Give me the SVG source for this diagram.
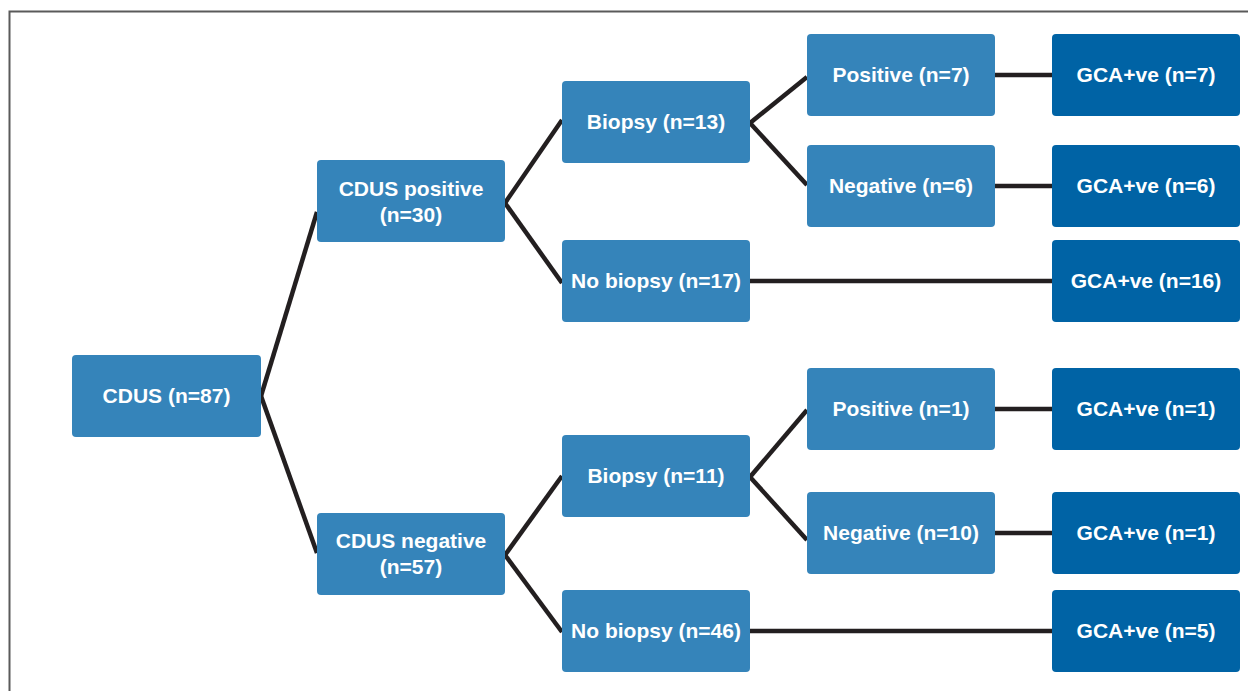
<svg xmlns="http://www.w3.org/2000/svg" width="1248" height="691" viewBox="0 0 1248 691">
<style>
.n rect{fill:#3584BA;}
.d rect{fill:#0063A5;}
text{font-family:"Liberation Sans",Arial,sans-serif;font-weight:bold;font-size:21px;fill:#fff;text-anchor:middle;}
.c line{stroke:#231F20;stroke-width:4.5;stroke-linecap:butt;}
</style>
<rect x="0" y="0" width="1248" height="691" fill="#fff"/>
<path d="M9.5 691 V11.5 H1248" fill="none" stroke="#5a5a5a" stroke-width="2"/>
<g class="c" id="connectors">
<line x1="261" y1="396" x2="317" y2="212"/>
<line x1="261" y1="396" x2="317" y2="553"/>
<line x1="505" y1="203" x2="562" y2="120"/>
<line x1="505" y1="203" x2="562" y2="283"/>
<line x1="505" y1="555" x2="562" y2="476"/>
<line x1="505" y1="555" x2="562" y2="632"/>
<line x1="750" y1="123" x2="807" y2="77"/>
<line x1="750" y1="123" x2="807" y2="185"/>
<line x1="750" y1="477" x2="807" y2="410"/>
<line x1="750" y1="477" x2="807" y2="540"/>
<line x1="995" y1="75" x2="1052" y2="75"/>
<line x1="995" y1="186" x2="1052" y2="186"/>
<line x1="750" y1="281" x2="1052" y2="281"/>
<line x1="995" y1="409" x2="1052" y2="409"/>
<line x1="995" y1="533" x2="1052" y2="533"/>
<line x1="750" y1="631" x2="1052" y2="631"/>
</g>
<g id="cdus" class="n"><rect x="72" y="355" width="189" height="82" rx="4"/><text x="166.5" y="403">CDUS (n=87)</text></g>
<g id="cdus-pos" class="n"><rect x="317" y="160" width="188" height="82" rx="4"/><text x="411" y="195.5">CDUS positive</text><text x="411" y="221.5">(n=30)</text></g>
<g id="cdus-neg" class="n"><rect x="317" y="513" width="188" height="82" rx="4"/><text x="411" y="547.5">CDUS negative</text><text x="411" y="573.5">(n=57)</text></g>
<g id="biopsy13" class="n"><rect x="562" y="81" width="188" height="82" rx="4"/><text x="656" y="129">Biopsy (n=13)</text></g>
<g id="nobiopsy17" class="n"><rect x="562" y="240" width="188" height="82" rx="4"/><text x="656" y="288">No biopsy (n=17)</text></g>
<g id="biopsy11" class="n"><rect x="562" y="435" width="188" height="82" rx="4"/><text x="656" y="483">Biopsy (n=11)</text></g>
<g id="nobiopsy46" class="n"><rect x="562" y="590" width="188" height="82" rx="4"/><text x="656" y="638">No biopsy (n=46)</text></g>
<g id="pos7" class="n"><rect x="807" y="34" width="188" height="82" rx="4"/><text x="901" y="82">Positive (n=7)</text></g>
<g id="neg6" class="n"><rect x="807" y="145" width="188" height="82" rx="4"/><text x="901" y="193">Negative (n=6)</text></g>
<g id="pos1" class="n"><rect x="807" y="368" width="188" height="82" rx="4"/><text x="901" y="416">Positive (n=1)</text></g>
<g id="neg10" class="n"><rect x="807" y="492" width="188" height="82" rx="4"/><text x="901" y="540">Negative (n=10)</text></g>
<g id="gca7" class="d"><rect x="1052" y="34" width="188" height="82" rx="4"/><text x="1146" y="82">GCA+ve (n=7)</text></g>
<g id="gca6" class="d"><rect x="1052" y="145" width="188" height="82" rx="4"/><text x="1146" y="193">GCA+ve (n=6)</text></g>
<g id="gca16" class="d"><rect x="1052" y="240" width="188" height="82" rx="4"/><text x="1146" y="288">GCA+ve (n=16)</text></g>
<g id="gca1a" class="d"><rect x="1052" y="368" width="188" height="82" rx="4"/><text x="1146" y="416">GCA+ve (n=1)</text></g>
<g id="gca1b" class="d"><rect x="1052" y="492" width="188" height="82" rx="4"/><text x="1146" y="540">GCA+ve (n=1)</text></g>
<g id="gca5" class="d"><rect x="1052" y="590" width="188" height="82" rx="4"/><text x="1146" y="638">GCA+ve (n=5)</text></g>
</svg>
